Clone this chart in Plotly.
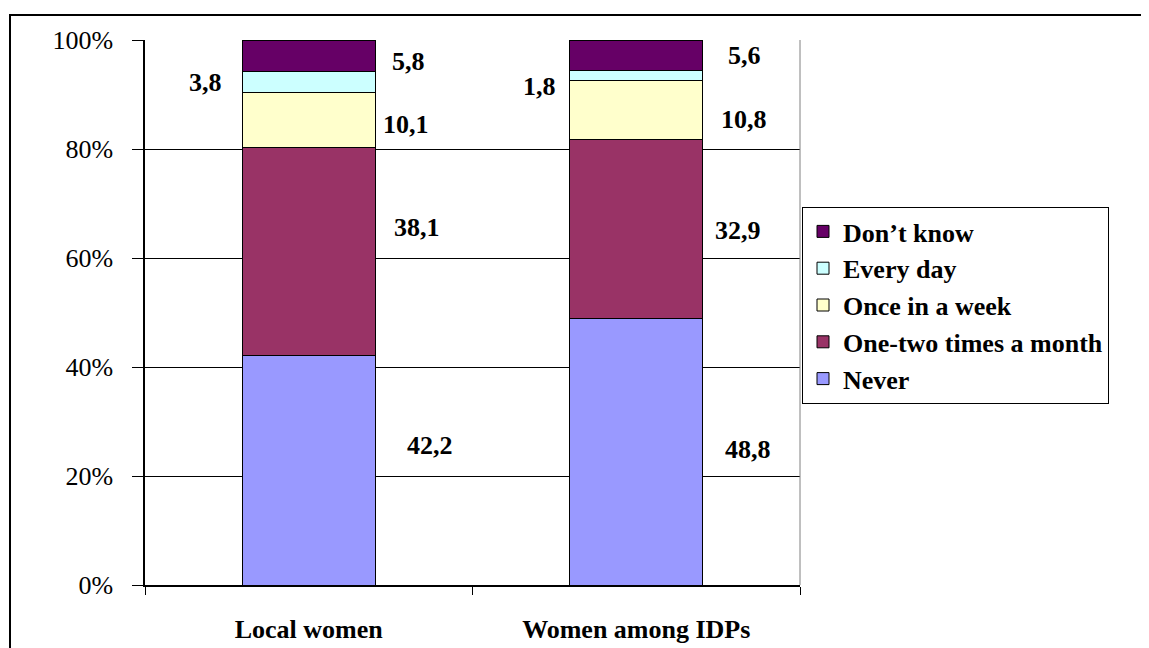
import plotly.graph_objects as go
import numpy as np

categories = ["Local women", "Women among IDPs"]
series_names = ["Never", "One-two times a month", "Once in a week", "Every day", "Don\u2019t know"]
never = [42.2, 48.8]
one_two = [38.1, 32.9]
once_week = [10.1, 10.8]
every_day = [3.8, 1.8]
dont_know = [5.8, 5.6]
label_text = {
    "Never": ["42,2", "48,8"],
    "One-two times a month": ["38,1", "32,9"],
    "Once in a week": ["10,1", "10,8"],
    "Every day": ["3,8", "1,8"],
    "Don\u2019t know": ["5,8", "5,6"],
}
colors = ["#9999FF", "#993366", "#FFFFCC", "#CCFFFF", "#660066"]

# label pixel offsets (style/placement)
xshifts = {
    "Never": [121, 112],
    "One-two times a month": [108, 102],
    "Once in a week": [97, 108],
    "Every day": [-103, -97],
    "Don\u2019t know": [100, 108],
}
yshifts = {
    "Never": [25, 2],
    "One-two times a month": [24, -1],
    "Once in a week": [-5, -10],
    "Every day": [-1, -11],
    "Don\u2019t know": [-6, 0],
}

FONT = "'Liberation Serif', 'Times New Roman', 'DejaVu Serif', serif"
FS = 26

values = [never, one_two, once_week, every_day, dont_know]
fig = go.Figure()
for name, vals, col in zip(series_names, values, colors):
    fig.add_trace(go.Bar(
        x=categories, y=vals, name="<b>" + name + "</b>",
        marker=dict(color=col, line=dict(color="black", width=1)),
    ))

# annotations at segment midpoints (normalized to 100%)
arr = np.array(values)
totals = arr.sum(axis=0)
norm = arr / totals * 100
cum = np.cumsum(norm, axis=0)
for i, name in enumerate(series_names):
    for j, cat in enumerate(categories):
        mid = cum[i, j] - norm[i, j] / 2
        fig.add_annotation(
            x=cat, y=mid, xref="x", yref="y",
            text="<b>" + label_text[name][j] + "</b>", showarrow=False,
            xshift=xshifts[name][j], yshift=yshifts[name][j],
            font=dict(family=FONT, size=FS, color="black"),
        )

# plot area right border (gray)
fig.add_shape(type="line", xref="paper", yref="paper", x0=1, x1=1, y0=0, y1=1,
              line=dict(color="#808080", width=1))
# outer chart frame
fig.add_shape(type="rect", xref="paper", yref="paper",
              x0=(10 - 145) / 655, x1=(1200 - 145) / 655,
              y0=-0.3, y1=(585 - 15) / 545,
              line=dict(color="black", width=2), layer="above")

fig.update_layout(
    barmode="stack", barnorm="percent", bargap=0.594,
    width=1149, height=648,
    margin=dict(l=137, r=357, t=32, b=71, autoexpand=False),
    paper_bgcolor="white", plot_bgcolor="white",
    font=dict(family=FONT, size=FS, color="black"),
    legend=dict(
        traceorder="reversed", x=(802 - 145) / 655, xanchor="left",
        y=(585 - 207) / 545, yanchor="top",
        bordercolor="black", borderwidth=1, bgcolor="white",
        font=dict(family=FONT, size=FS, color="black"),
    ),
    showlegend=True,
)
fig.update_yaxes(
    range=[0, 100], dtick=20, ticksuffix="%", showgrid=True, gridcolor="black", gridwidth=1,
    showline=True, linecolor="black", linewidth=1.5, ticks="outside", ticklen=11,
    tickcolor="black", ticklabelstandoff=14, zeroline=False,
    tickfont=dict(family=FONT, size=FS, color="black"),
)
fig.update_xaxes(
    showline=True, linecolor="black", linewidth=1.5, ticks="outside", ticklen=8,
    tickcolor="black", tickson="boundaries", showgrid=False, ticklabelstandoff=20,
    tickvals=categories, ticktext=["<b>" + c + "</b>" for c in categories],
    tickfont=dict(family=FONT, size=FS, color="black"),
)
fig.write_html("out.html")
